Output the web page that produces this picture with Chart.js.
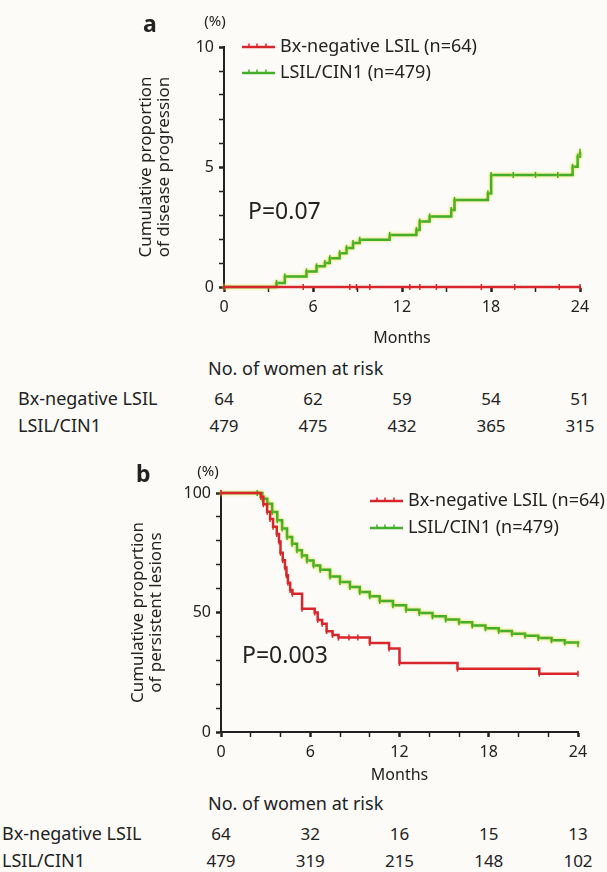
<!DOCTYPE html>
<html>
<head>
<meta charset="utf-8">
<script src="https://cdn.jsdelivr.net/npm/chart.js@4.4.1/dist/chart.umd.min.js"></script>
<style>
  body { margin: 0; background: #fcfbf8; width: 607px; height: 872px; position: relative; overflow: hidden;
         font-family: "Noto Sans", sans-serif; color: #222; }
  canvas { position: absolute; left: 0; }
  .t { position: absolute; white-space: nowrap; line-height: 1; transform: translateY(-50%); }
  .c { transform: translate(-50%, -50%); }
</style>
</head>
<body>
<canvas id="chartA" width="607" height="350" style="top:0"></canvas>
<canvas id="chartB" width="607" height="350" style="top:440px"></canvas>
<div id="labels"></div>

<script>
// ---- data ----
const riskMonths = [0, 6, 12, 18, 24];

// panel a: cumulative proportion of disease progression (%)
const progBxT = [0, 5.34, 8.48, 8.93, 9.83, 12.52, 13.2, 14.32, 17.35, 19.6, 22.6, 24];
const progBxV = [0, 0, 0, 0, 0, 0, 0, 0, 0, 0, 0, 0];
const progCinT = [0, 3.54, 4.1, 5.56, 6.24, 6.8, 7.13, 7.8, 8.26, 8.7, 9.15, 11.17, 12.97, 13.19, 13.86,
                  15.32, 15.54, 17.79, 18.01, 19.5, 21, 22.5, 23.5, 23.84, 24];
const progCinV = [0, 0.17, 0.44, 0.65, 0.86, 1.0, 1.2, 1.41, 1.62, 1.83, 1.97, 2.17, 2.38, 2.73, 2.94,
                  3.21, 3.63, 3.9, 4.67, 4.67, 4.67, 4.67, 5.01, 5.43, 5.64];
const riskA_bx = [64, 62, 59, 54, 51];
const riskA_cin = [479, 475, 432, 365, 315];

// panel b: cumulative proportion of persistent lesions (%)
const persBxT = [0, 2.67, 2.85, 3.1, 3.3, 3.5, 3.75, 3.9, 4.0, 4.15, 4.3, 4.4, 4.5, 4.65, 4.8, 5.45,
                 6.3, 6.5, 6.8, 7.1, 7.5, 7.9, 8.6, 9.2, 10, 11.3, 12, 15.9, 21.4, 24];
const persBxV = [100, 98.4, 95.3, 92.2, 89.1, 85.9, 82.8, 79.7, 75, 71.9, 68.8, 65.6, 62.5, 59.4, 57.8, 51.6,
                 50, 46.9, 45.3, 42.2, 40.6, 39.5, 39.5, 39.5, 37.2, 34.9, 28.9, 26.5, 24.4, 24.4];
const persCinT = [0, 2.44, 2.78, 3.11, 3.44, 3.78, 4.11, 4.44, 4.78, 5.11, 5.44, 5.78, 6.22, 6.67, 7.33,
                  8.0, 8.67, 9.33, 10, 10.67, 11.56, 12.44, 13.33, 14.22, 15.11, 16, 16.89, 17.78, 18.67,
                  19.56, 20.44, 21.33, 22.22, 23.11, 24];
const persCinV = [100, 100, 97.6, 95.5, 92, 88.6, 85.1, 81.6, 78.8, 76, 73.9, 71.8, 69.7, 67.9, 65.1,
                  62.8, 60.7, 58.6, 56.8, 54.8, 53, 51.2, 49.8, 48.4, 47.1, 45.9, 44.6, 43.4, 42.3,
                  41.1, 40.3, 39.3, 38.4, 37.4, 36.7];
const riskB_bx = [64, 32, 16, 15, 13];
const riskB_cin = [479, 319, 215, 148, 102];

const RED = "#d8262a";
const GREEN = "#43ad2c";
const INK = "#222";
const FONT = '"Noto Sans", sans-serif';

Chart.defaults.font.family = FONT;
Chart.defaults.color = INK;

function pts(t, v) { return t.map((x, i) => ({ x: x, y: v[i] })); }

// legend drawn inside the plot, line sample with small censor ticks
const insideLegend = {
  id: "insideLegend",
  afterDraw(chart, args, opts) {
    const ctx = chart.ctx;
    ctx.save();
    ctx.font = "18px " + FONT;
    ctx.textBaseline = "middle";
    chart.data.datasets.forEach((ds, i) => {
      const x = opts.x, y = opts.y + i * opts.gap;
      ctx.strokeStyle = ds.borderColor;
      ctx.lineWidth = 2.5;
      ctx.beginPath(); ctx.moveTo(x, y); ctx.lineTo(x + 33, y); ctx.stroke();
      ctx.lineWidth = 1.5;
      [7, 15, 24].forEach(d => { ctx.beginPath(); ctx.moveTo(x + d, y - 3.5); ctx.lineTo(x + d, y); ctx.stroke(); });
      ctx.fillStyle = INK;
      ctx.fillText(ds.label, x + 38, y);
    });
    ctx.restore();
  }
};

// faint yellow halo around the green curve like the printed figure
const halo = {
  id: "halo",
  beforeDatasetDraw(chart, args) {
    if (args.meta.dataset && args.meta.dataset.options.borderColor === GREEN) {
      chart.ctx.save();
      chart.ctx.shadowColor = "rgba(225,220,40,0.9)";
      chart.ctx.shadowBlur = 3;
    }
  },
  afterDatasetDraw(chart, args) {
    if (args.meta.dataset && args.meta.dataset.options.borderColor === GREEN) chart.ctx.restore();
  }
};

function series(label, t, v, color) {
  return {
    label: label, data: pts(t, v), borderColor: color, backgroundColor: color,
    borderWidth: 2.5, stepped: "before", fill: false, clip: 4,
    pointStyle: "line", rotation: 90, pointRadius: 3, pointBorderWidth: 1.5, pointBorderColor: color
  };
}

function options(c) {
  return {
    responsive: false, animation: false,
    layout: { padding: { left: 0, right: c.right, top: c.top, bottom: 0 } },
    plugins: {
      legend: { display: false }, tooltip: { enabled: false },
      insideLegend: c.legend
    },
    scales: {
      x: {
        type: "linear", min: 0, max: 24,
        afterFit: s => { s.height = c.xh; },
        ticks: { stepSize: c.xStep, autoSkip: false, maxRotation: 0, padding: 6, font: { size: 16 },
                 callback: v => (v % 6 === 0 ? v : "") },
        grid: { drawOnChartArea: false, tickLength: 5, tickColor: INK,
                tickWidth: ctx => (ctx.tick && ctx.tick.value % 6 === 0 ? 2.5 : 1.5) },
        border: { color: INK, width: 2 },
        title: { display: true, text: "Months", font: { size: 16 }, padding: { top: 0, bottom: c.monthsPad } }
      },
      y: {
        min: 0, max: c.yMax,
        afterFit: s => { s.width = c.left; },
        ticks: { stepSize: c.yStep, autoSkip: false, padding: 5, font: { size: 16 },
                 callback: v => (v % c.yLabel === 0 ? v : "") },
        grid: { drawOnChartArea: false, tickLength: 5, tickColor: INK,
                tickWidth: ctx => (ctx.tick && ctx.tick.value % c.yLabel === 0 ? 2.5 : 1.5) },
        border: { color: INK, width: 2 },
        title: { display: true, text: c.yTitle, font: { size: 17, lineHeight: 1.05 },
                 padding: { top: c.titlePad, bottom: 0 } }
      }
    }
  };
}

const chartA = new Chart(document.getElementById("chartA"), {
  type: "line",
  data: { datasets: [
    series("Bx-negative LSIL (n=64)", progBxT, progBxV, RED),
    series("LSIL/CIN1 (n=479)", progCinT, progCinV, GREEN)
  ] },
  options: options({ right: 27, top: 47, xh: 63, left: 224, xStep: 3, yMax: 10, yStep: 1, yLabel: 5,
                     monthsPad: 2, titlePad: 137,
                     yTitle: ["Cumulative proportion", "of disease progression"],
                     legend: { x: 242, y: 47, gap: 26 } }),
  plugins: [insideLegend, halo]
});

const chartB = new Chart(document.getElementById("chartB"), {
  type: "line",
  data: { datasets: [
    series("Bx-negative LSIL (n=64)", persBxT, persBxV, RED),
    series("LSIL/CIN1 (n=479)", persCinT, persCinV, GREEN)
  ] },
  options: options({ right: 29, top: 53, xh: 58, left: 221, xStep: 2, yMax: 100, yStep: 10, yLabel: 50,
                     monthsPad: 5, titlePad: 129,
                     yTitle: ["Cumulative proportion", "of persistent lesions"],
                     legend: { x: 370, y: 61, gap: 27 } }),
  plugins: [insideLegend, halo]
});

// ---- text around the plots ----
const box = document.getElementById("labels");
function text(str, x, y, size, extra, centered) {
  const d = document.createElement("div");
  d.className = "t" + (centered ? " c" : "");
  d.textContent = str;
  d.style.left = x + "px";
  d.style.top = y + "px";
  d.style.fontSize = size + "px";
  if (extra) Object.assign(d.style, extra);
  box.appendChild(d);
}

function panelText(chart, letter, pct, pText, pPos, riskY, labelX, rows) {
  text(letter, pct[0] - 72, pct[1] + 3, 23, { fontWeight: "bold" });
  text("(%)", pct[0], pct[1], 15, null, true);
  text(pText, pPos[0], pPos[1], 23);
  text("No. of women at risk", 208, riskY, 18);
  rows.forEach((r, i) => {
    const y = riskY + 30 + i * 27;
    text(r.name, labelX, y, 18);
    r.values.forEach((n, j) => {
      text(String(n), chart.scales.x.getPixelForValue(riskMonths[j]), y, 17, null, true);
    });
  });
}

panelText(chartA, "a", [215, 20], "P=0.07", [248, 210], 368, 18, [
  { name: "Bx-negative LSIL", values: riskA_bx },
  { name: "LSIL/CIN1", values: riskA_cin }
]);
panelText(chartB, "b", [208, 470], "P=0.003", [242, 654], 803, 2, [
  { name: "Bx-negative LSIL", values: riskB_bx },
  { name: "LSIL/CIN1", values: riskB_cin }
]);
</script>
</body>
</html>
